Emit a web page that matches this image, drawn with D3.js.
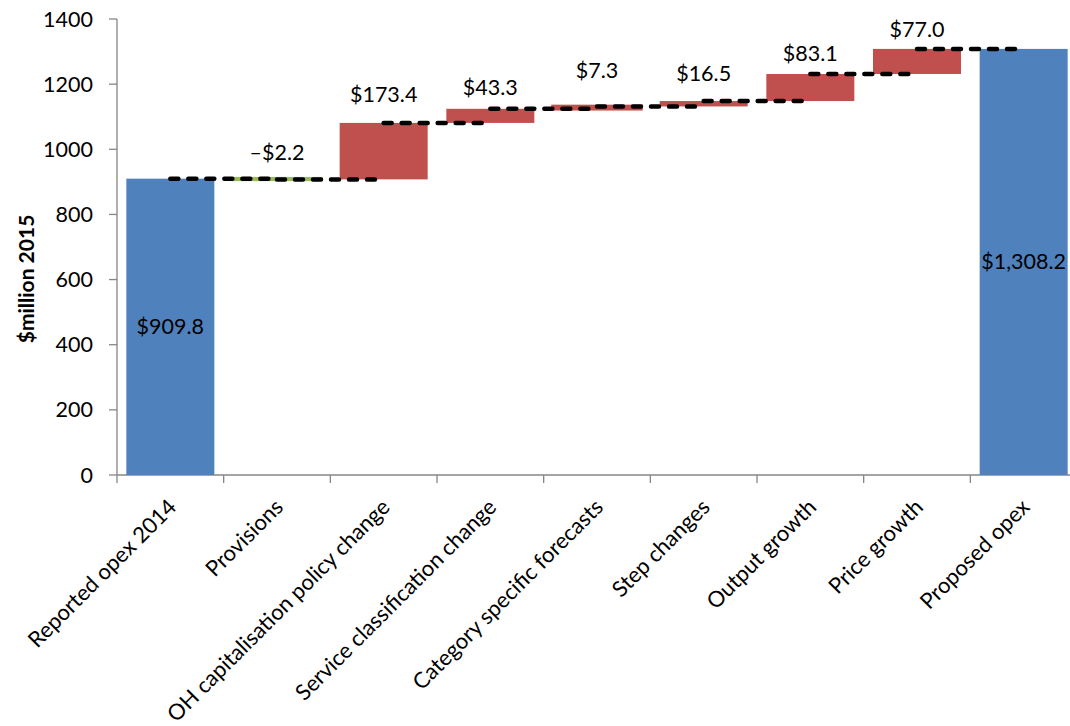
<!DOCTYPE html>
<html><head><meta charset="utf-8">
<script src="https://cdn.jsdelivr.net/npm/d3@7/dist/d3.min.js"></script>
<style>html,body{margin:0;padding:0;background:#fff;}svg{display:block;}</style>
</head><body><div id="chart"></div>
<script>
const categories = ["Reported opex 2014","Provisions","OH capitalisation policy change","Service classification change","Category specific forecasts","Step changes","Output growth","Price growth","Proposed opex"];
const values = [909.8, -2.2, 173.4, 43.3, 7.3, 16.5, 83.1, 77.0, 1308.2];
const kinds = ["total","delta","delta","delta","delta","delta","delta","delta","total"];
const valueLabels = ["$909.8","\u2013$2.2","$173.4","$43.3","$7.3","$16.5","$83.1","$77.0","$1,308.2"];
const yTicks = [0,200,400,600,800,1000,1200,1400];
const yTitle = "$million 2015";

const W = 1070, H = 726;
const font = "Lato, 'Open Sans', sans-serif";
const fs = 21.5;
const svg = d3.select("#chart").append("svg").attr("width", W).attr("height", H);

const x = d3.scaleBand().domain(categories).range([117, 1077]).paddingInner(0.175).paddingOuter(0.0875);
const y = d3.scaleLinear().domain([0, 1400]).range([475, 19]);
const step = x.step();

// compute waterfall
let cum = 0;
const bars = categories.map((c, i) => {
  let lo, hi, end;
  if (kinds[i] === "total") { lo = 0; hi = values[i]; end = values[i]; }
  else { const s = cum; end = cum + values[i]; lo = Math.min(s, end); hi = Math.max(s, end); }
  cum = end;
  const color = kinds[i] === "total" ? "#4F81BD" : (values[i] < 0 ? "#9BBB59" : "#C0504D");
  return {c, i, lo, hi, end, color, label: valueLabels[i], kind: kinds[i]};
});

// axes
const axisColor = "#868686";
svg.append("line").attr("x1", 117).attr("x2", 117).attr("y1", y(1400)).attr("y2", y(0)).attr("stroke", axisColor).attr("stroke-width", 1.3);
svg.append("line").attr("x1", 117).attr("x2", 1077).attr("y1", y(0)).attr("y2", y(0)).attr("stroke", axisColor).attr("stroke-width", 1.3);
yTicks.forEach(t => {
  svg.append("line").attr("x1", 109).attr("x2", 117).attr("y1", y(t)).attr("y2", y(t)).attr("stroke", axisColor).attr("stroke-width", 1.3);
  svg.append("text").attr("x", 93).attr("y", y(t)).attr("dy", "0.35em").attr("text-anchor", "end")
    .attr("font-family", font).attr("font-size", fs).attr("fill", "#000").text(t);
});
for (let i = 0; i <= categories.length; i++) {
  const xx = 117 + i * step;
  svg.append("line").attr("x1", xx).attr("x2", xx).attr("y1", y(0)).attr("y2", y(0) + 8).attr("stroke", axisColor).attr("stroke-width", 1.3);
}

// bars
svg.selectAll("rect.bar").data(bars).enter().append("rect")
  .attr("x", d => x(d.c)).attr("width", x.bandwidth())
  .attr("y", d => y(d.hi)).attr("height", d => Math.max(0.5, y(d.lo) - y(d.hi)))
  .attr("fill", d => d.color)
  .attr("stroke", d => d.kind === "delta" && (y(d.lo) - y(d.hi)) < 3 ? d.color : "none")
  .attr("stroke-width", 3.5);

// connectors
for (let i = 0; i < bars.length - 1; i++) {
  const lv = bars[i].end;
  svg.append("line")
    .attr("x1", x(bars[i].c) + x.bandwidth() / 2).attr("x2", x(bars[i + 1].c) + x.bandwidth() / 2)
    .attr("y1", y(lv)).attr("y2", y(lv))
    .attr("stroke", "#000").attr("stroke-width", 4.5).attr("stroke-dasharray", "8,10").attr("stroke-linecap", "round");
}

// value labels
const labelGap = [0, 26, 28, 21, 36, 28, 21, 19, 0];
bars.forEach(d => {
  const cx = x(d.c) + x.bandwidth() / 2;
  const ly = d.kind === "total" ? y(d.hi / 2) : y(d.hi) - labelGap[d.i];
  svg.append("text").attr("x", cx).attr("y", ly).attr("dy", "0.35em").attr("text-anchor", "middle")
    .attr("font-family", font).attr("font-size", fs).attr("fill", "#000").text(d.label);
});

// category labels
categories.forEach(c => {
  const cx = x(c) + x.bandwidth() / 2;
  svg.append("text").attr("transform", `translate(${cx + 2},${503}) rotate(-45)`)
    .attr("text-anchor", "end").attr("dy", "0.35em")
    .attr("font-family", font).attr("font-size", 22).attr("fill", "#000").text(c);
});

// y title
svg.append("text").attr("transform", `translate(27,279) rotate(-90)`).attr("text-anchor", "middle").attr("dy", "0.35em")
  .attr("font-family", font).attr("font-size", 21).attr("font-weight", "bold").attr("fill", "#000").text(yTitle);
</script></body></html>
